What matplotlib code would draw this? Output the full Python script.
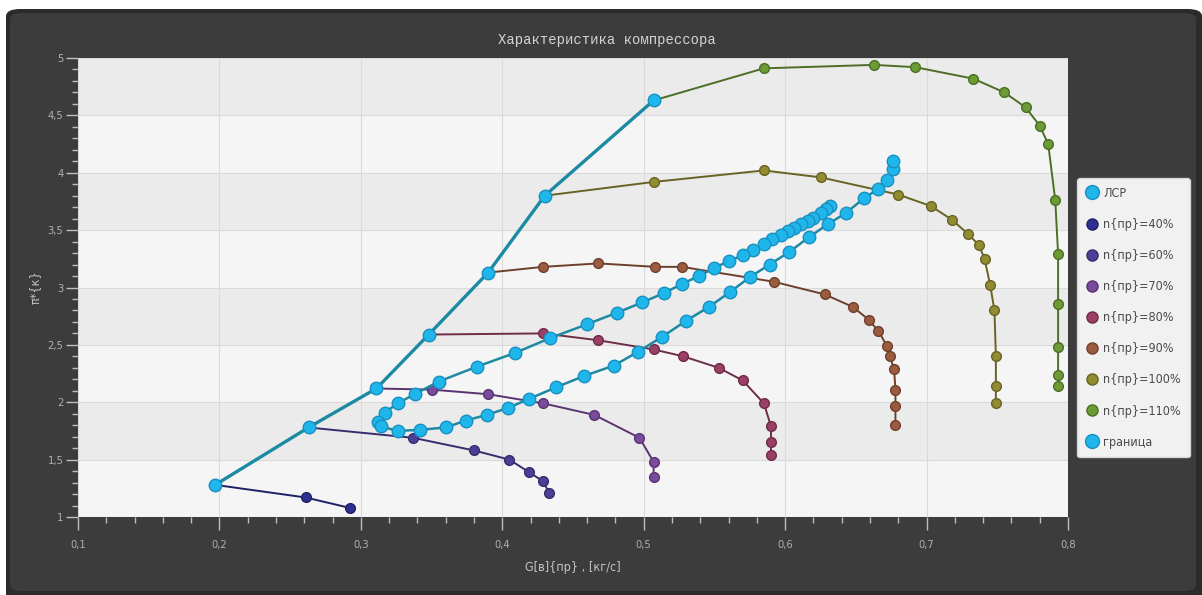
import numpy as np
import matplotlib
matplotlib.use("Agg")
import matplotlib.pyplot as plt
from matplotlib import font_manager
from matplotlib.lines import Line2D
from matplotlib.patches import FancyBboxPatch
from matplotlib.ticker import MultipleLocator, FuncFormatter

# --- data ---
surge_g = [0.197, 0.263, 0.311, 0.348, 0.390, 0.430, 0.507]
surge_pi = [1.28, 1.78, 2.12, 2.59, 3.13, 3.80, 4.63]

g_40 = [0.197, 0.261, 0.292]
pi_40 = [1.28, 1.17, 1.08]

g_60 = [0.263, 0.337, 0.380, 0.405, 0.419, 0.429, 0.433]
pi_60 = [1.78, 1.69, 1.58, 1.50, 1.39, 1.31, 1.21]

g_70 = [0.311, 0.350, 0.390, 0.429, 0.465, 0.497, 0.507, 0.507]
pi_70 = [2.12, 2.11, 2.07, 1.99, 1.89, 1.69, 1.48, 1.35]

g_80 = [0.348, 0.429, 0.468, 0.507, 0.528, 0.553, 0.570, 0.585, 0.590, 0.590, 0.590]
pi_80 = [2.59, 2.60, 2.54, 2.46, 2.40, 2.30, 2.19, 1.99, 1.79, 1.65, 1.54]

g_90 = [0.390, 0.429, 0.468, 0.508, 0.527, 0.592, 0.628, 0.648, 0.659, 0.666,
        0.672, 0.674, 0.677, 0.678, 0.678, 0.678]
pi_90 = [3.13, 3.18, 3.21, 3.18, 3.18, 3.05, 2.94, 2.83, 2.72, 2.62,
         2.49, 2.40, 2.29, 2.11, 1.97, 1.80]

g_100 = [0.430, 0.507, 0.585, 0.625, 0.680, 0.703, 0.718, 0.729, 0.737, 0.741,
         0.745, 0.748, 0.749, 0.749, 0.749]
pi_100 = [3.80, 3.92, 4.02, 3.96, 3.81, 3.71, 3.59, 3.47, 3.37, 3.25,
          3.02, 2.80, 2.40, 2.14, 1.99]

g_110 = [0.507, 0.585, 0.663, 0.692, 0.733, 0.755, 0.770, 0.780, 0.786, 0.791,
         0.793, 0.793, 0.793, 0.793, 0.793]
pi_110 = [4.63, 4.91, 4.94, 4.92, 4.82, 4.70, 4.57, 4.41, 4.25, 3.76,
          3.29, 2.86, 2.48, 2.24, 2.14]

# boundary: upper branch (top -> bottom), then lower branch (bottom -> top)
border_g = [0.632, 0.629, 0.625, 0.620, 0.616, 0.611, 0.606, 0.602, 0.597, 0.591,
            0.585, 0.577, 0.570, 0.560, 0.550, 0.539, 0.527, 0.514, 0.499, 0.481,
            0.460, 0.434, 0.409, 0.382, 0.355, 0.338, 0.326, 0.317, 0.312,
            0.314, 0.326, 0.342, 0.360, 0.374, 0.389, 0.404, 0.419, 0.438, 0.458,
            0.479, 0.496, 0.513, 0.530, 0.546, 0.561, 0.575, 0.589, 0.603, 0.617,
            0.630, 0.643, 0.656, 0.666, 0.672, 0.676, 0.676]
border_pi = [3.71, 3.68, 3.65, 3.61, 3.58, 3.55, 3.52, 3.49, 3.46, 3.42,
             3.38, 3.33, 3.28, 3.23, 3.17, 3.10, 3.03, 2.95, 2.87, 2.78,
             2.68, 2.56, 2.43, 2.31, 2.18, 2.07, 1.99, 1.91, 1.83,
             1.79, 1.75, 1.76, 1.78, 1.84, 1.89, 1.95, 2.03, 2.13, 2.23,
             2.32, 2.44, 2.57, 2.71, 2.83, 2.96, 3.09, 3.20, 3.31, 3.44,
             3.55, 3.65, 3.78, 3.86, 3.94, 4.03, 4.10]

speed_labels = ["n{пр}=40%", "n{пр}=60%", "n{пр}=70%", "n{пр}=80%",
                "n{пр}=90%", "n{пр}=100%", "n{пр}=110%"]
speed_g = [g_40, g_60, g_70, g_80, g_90, g_100, g_110]
speed_pi = [pi_40, pi_60, pi_70, pi_80, pi_90, pi_100, pi_110]

speed_colors = ["#2e3090", "#4e3f96", "#7a4a9c", "#9a3f66",
                "#9a5b3f", "#918b31", "#6c9a34"]
speed_edges = ["#1f2066", "#372c6c", "#583470", "#6e2c48",
               "#6e402c", "#686322", "#4d6e25"]
BLUE = "#1fb6ec"
BLUE_EDGE = "#1990c0"
TEAL = "#1c8aa2"

names = {f.name for f in font_manager.fontManager.ttflist}
narrow = "Liberation Sans Narrow" if "Liberation Sans Narrow" in names else "DejaVu Sans"


def comma_fmt(v, _pos):
    return f"{v:g}".replace(".", ",")


fig = plt.figure(figsize=(12.02, 5.95), dpi=100, facecolor="white")
fig.patches.append(FancyBboxPatch((6 / 1202, -0.02), 1196 / 1202, 586 / 595 + 0.02,
                                  boxstyle="round,pad=0,rounding_size=0.012",
                                  transform=fig.transFigure, zorder=-2,
                                  facecolor="#2b2b2b", edgecolor="none"))
fig.patches.append(FancyBboxPatch((10 / 1202, 4 / 595), 1186 / 1202, 578 / 595,
                                  boxstyle="round,pad=0,rounding_size=0.01",
                                  transform=fig.transFigure, zorder=-1,
                                  facecolor="#3c3c3c", edgecolor="none"))

ax = fig.add_axes([78 / 1202, 1 - 517 / 595, 990 / 1202, 459 / 595])
ax.set_facecolor("#f5f5f5")
ax.set_xlim(0.1, 0.8)
ax.set_ylim(1, 5)

# alternating horizontal bands
for i, lo in enumerate(np.arange(1, 5, 0.5)):
    if i % 2:
        ax.axhspan(lo, lo + 0.5, color="#ebebeb", zorder=0, lw=0)

ax.set_axisbelow(True)
ax.grid(True, which="major", color="#dadada", lw=0.8)

# speed lines
for g, pi, col, ec in zip(speed_g, speed_pi, speed_colors, speed_edges):
    ax.plot(g, pi, color=ec, lw=1.4, marker="o", ms=7, mfc=col, mec=ec,
            mew=1.0, zorder=3)

# surge line
ax.plot(surge_g, surge_pi, color=TEAL, lw=2.4, marker="o", ms=9, mfc=BLUE,
        mec=BLUE_EDGE, mew=1.0, zorder=4)

# boundary
ax.plot(border_g, border_pi, color=TEAL, lw=1.8, marker="o", ms=9, mfc=BLUE,
        mec=BLUE_EDGE, mew=1.0, zorder=5)

for s in ax.spines.values():
    s.set_visible(False)

ax.xaxis.set_major_locator(MultipleLocator(0.1))
ax.xaxis.set_minor_locator(MultipleLocator(0.02))
ax.yaxis.set_major_locator(MultipleLocator(0.5))
ax.yaxis.set_minor_locator(MultipleLocator(0.1))
ax.xaxis.set_major_formatter(FuncFormatter(comma_fmt))
ax.yaxis.set_major_formatter(FuncFormatter(comma_fmt))

ax.tick_params(which="both", colors="#bdbdbd", labelcolor="#b0b0b0", width=1)
ax.tick_params(axis="x", which="major", length=9.5, pad=7, labelsize=8)
ax.tick_params(axis="x", which="minor", length=4.5)
ax.tick_params(axis="y", which="major", length=8.5, pad=2, labelsize=8)
ax.tick_params(axis="y", which="minor", length=4.5)
for lab in ax.get_xticklabels() + ax.get_yticklabels():
    lab.set_family(narrow)
    lab.set_stretch("condensed")

ax.set_xlabel("G[в]{пр} , [кг/с]", color="#c4c4c4", fontsize=9,
              family=narrow, stretch="condensed", labelpad=8)
ax.set_ylabel("π*{к}", color="#c4c4c4", fontsize=9, family=narrow,
              stretch="condensed", labelpad=4)

fig.text(0.505, 1 - 40 / 595, "Характеристика компрессора", ha="center",
         va="center", color="#d4d4d4", fontsize=10,
         family=["Liberation Mono", "DejaVu Sans Mono"])

# legend
handles = [Line2D([], [], ls="none", marker="o", ms=10, mfc=BLUE, mec=BLUE_EDGE)]
for col, ec in zip(speed_colors, speed_edges):
    handles.append(Line2D([], [], ls="none", marker="o", ms=8, mfc=col, mec=ec))
handles.append(Line2D([], [], ls="none", marker="o", ms=10, mfc=BLUE, mec=BLUE_EDGE))
labels = ["ЛСР"] + speed_labels + ["граница"]

leg = fig.legend(handles, labels, loc="upper left",
                 bbox_to_anchor=(1077 / 1202, 1 - 178 / 595),
                 bbox_transform=fig.transFigure, frameon=True, fancybox=True,
                 prop={"family": narrow, "size": 9, "stretch": "condensed"},
                 labelspacing=1.45, handlelength=1.0, handletextpad=0.4,
                 borderpad=0.7, borderaxespad=0)
leg.get_frame().set_facecolor("#f1f1f1")
leg.get_frame().set_edgecolor("#d4d4d4")
leg.get_frame().set_alpha(1)
for t in leg.get_texts():
    t.set_color("#4a4a4a")

fig.savefig("out.png", dpi=100, facecolor=fig.get_facecolor())
